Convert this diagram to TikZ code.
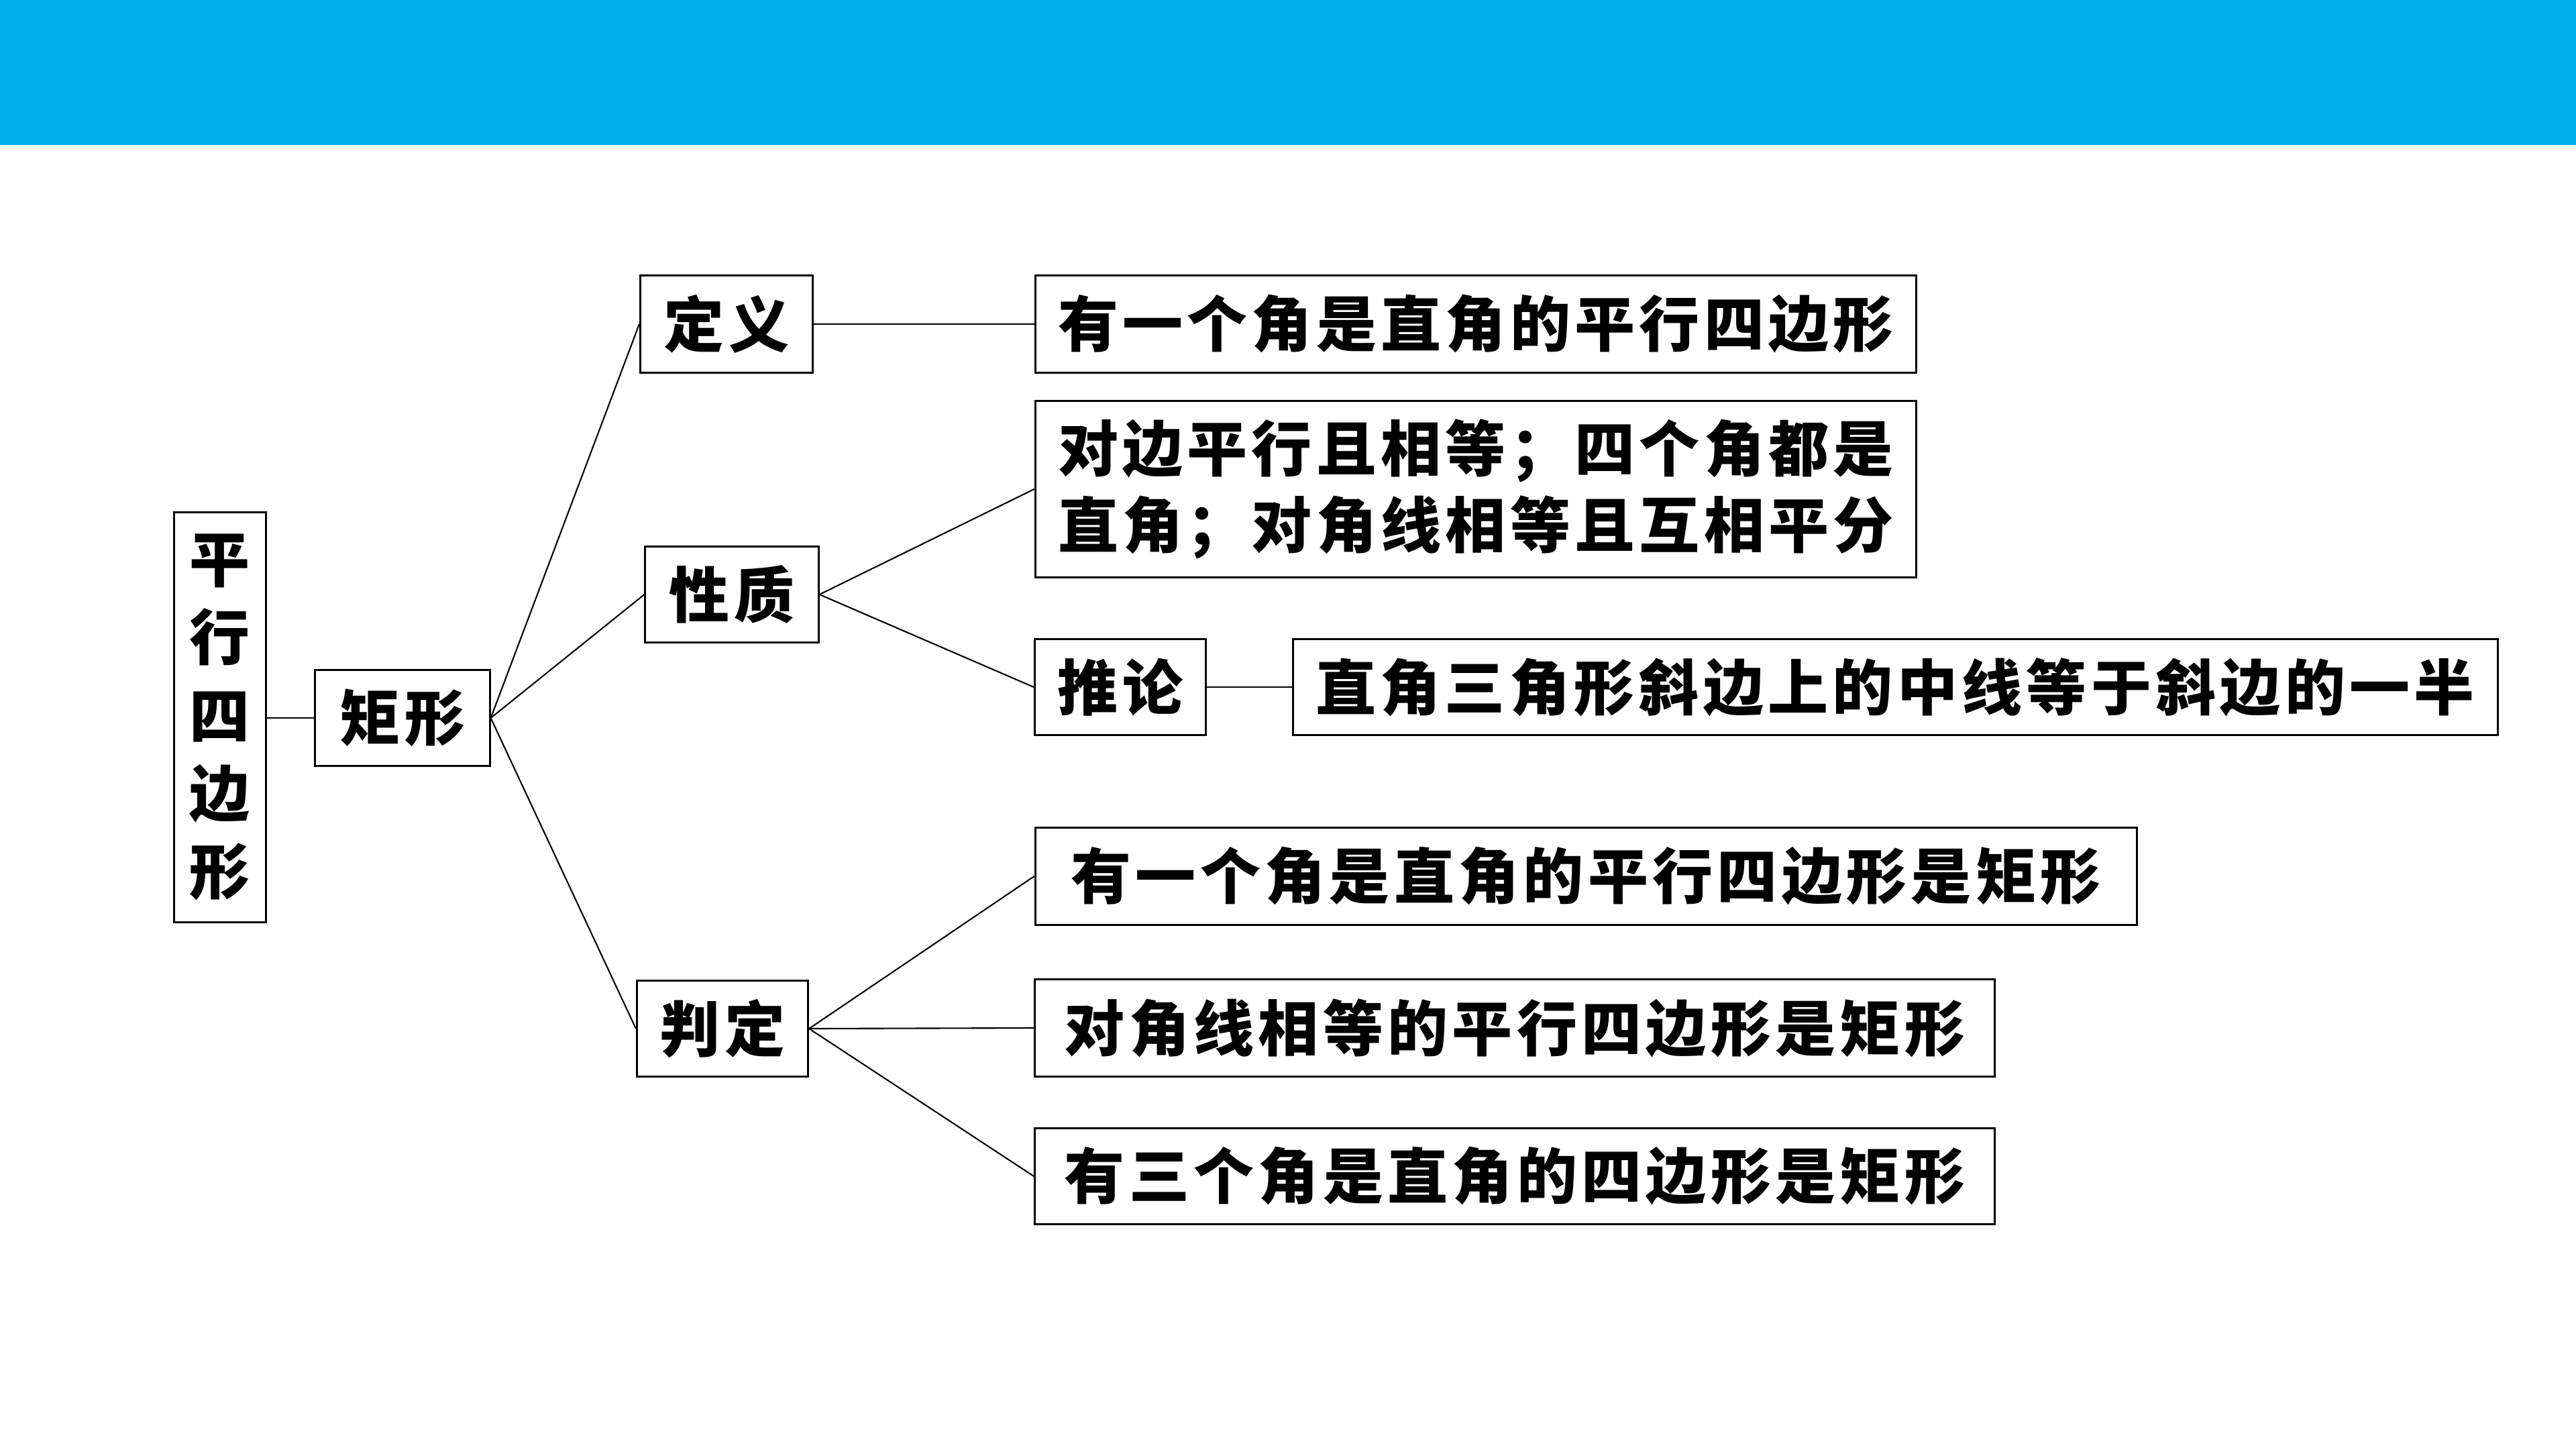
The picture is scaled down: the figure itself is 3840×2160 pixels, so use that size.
\documentclass[tikz,border=0pt]{standalone}
\usepackage{fontspec}
\newfontfamily\cjk{Noto Sans CJK SC}[LetterSpace=7]
\definecolor{topbar}{RGB}{0,173,239}
\begin{document}
\begin{tikzpicture}[x=0.01cm,y=-0.01cm,
  box/.style={draw=black,line width=0.85pt,inner sep=0pt,align=center,
    font=\cjk\bfseries\fontsize{25.6pt}{32.5pt}\selectfont},
  conn/.style={draw=black,line width=0.6pt}]
\useasboundingbox (0,0) rectangle (3840,2160);
\fill[topbar] (0,0) rectangle (3840,216);
% nodes
\node[box,minimum width=1.37cm,minimum height=6.10cm] (px) at (328,1069) {平\\[0.6pt]行\\[0.6pt]四\\[0.6pt]边\\[0.6pt]形};
\node[box,minimum width=2.60cm,minimum height=1.42cm] (jx) at (600,1070) {矩形};
\node[box,minimum width=2.57cm,minimum height=1.45cm] (dy) at (1083,483) {定义};
\node[box,minimum width=2.58cm,minimum height=1.43cm] (xz) at (1091,886) {性质};
\node[box,minimum width=2.55cm,minimum height=1.42cm] (pd) at (1077,1533) {判定};
\node[box,minimum width=13.13cm,minimum height=1.45cm] (d1) at (2200,483) {有一个角是直角的平行四边形};
\node[box,minimum width=13.13cm,minimum height=2.62cm] (x1) at (2200,729) {对边平行且相等；四个角都是\\直角；对角线相等且互相平分};
\node[box,minimum width=2.55cm,minimum height=1.42cm] (tl) at (1670,1024) {推论};
\node[box,minimum width=17.95cm,minimum height=1.42cm] (t1) at (2825,1024) {直角三角形斜边上的中线等于斜边的一半};
\node[box,minimum width=16.41cm,minimum height=1.45cm] (p1) at (2364,1306) {有一个角是直角的平行四边形是矩形};
\node[box,minimum width=14.30cm,minimum height=1.44cm] (p2) at (2258,1532) {对角线相等的平行四边形是矩形};
\node[box,minimum width=14.30cm,minimum height=1.42cm] (p3) at (2258,1753) {有三个角是直角的四边形是矩形};
% connectors
\draw[conn] (px.east |- jx.west) -- (jx.west);
\draw[conn] (jx.east) -- (dy.west);
\draw[conn] (jx.east) -- (xz.west);
\draw[conn] (jx.east) -- (pd.west);
\draw[conn] (dy.east) -- (d1.west);
\draw[conn] (xz.east) -- (x1.west);
\draw[conn] (xz.east) -- (tl.west);
\draw[conn] (tl.east) -- (t1.west);
\draw[conn] (pd.east) -- (p1.west);
\draw[conn] (pd.east) -- (p2.west);
\draw[conn] (pd.east) -- (p3.west);
\end{tikzpicture}
\end{document}
